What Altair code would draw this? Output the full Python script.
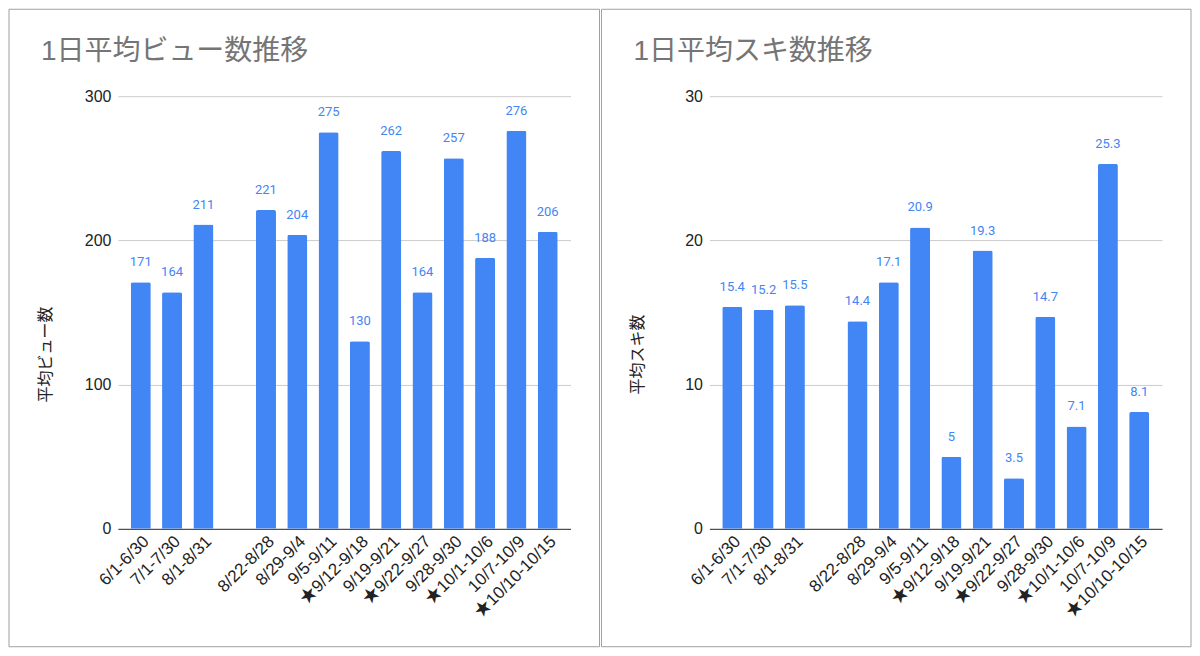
import altair as alt
import pandas as pd

categories = ["6/1-6/30", "7/1-7/30", "8/1-8/31", " ", "8/22-8/28", "8/29-9/4",
              "9/5-9/11", "★9/12-9/18", "9/19-9/21", "★9/22-9/27", "9/28-9/30",
              "★10/1-10/6", "10/7-10/9", "★10/10-10/15"]
views = [171, 164, 211, None, 221, 204, 275, 130, 262, 164, 257, 188, 276, 206]
likes = [15.4, 15.2, 15.5, None, 14.4, 17.1, 20.9, 5, 19.3, 3.5, 14.7, 7.1, 25.3, 8.1]

view_ticks = [0, 100, 200, 300]
like_ticks = [0, 10, 20, 30]

FONT = "Arial, Liberation Sans, Noto Sans CJK JP, sans-serif"
BAR = "#4285F4"


def panel(values, title, ytitle, ticks, rx1, rx2, tx):
    df = pd.DataFrame({"cat": categories, "v": values})
    x = alt.X("cat:N", sort=categories, title=None,
              scale=alt.Scale(domain=categories, paddingInner=0.36, paddingOuter=0.41),
              axis=alt.Axis(labelAngle=315, labelAlign="right", labelBaseline="top",
                            labelFontSize=17, labelColor="#222222", ticks=False,
                            domainColor="#333333", labelPadding=4, labelFont=FONT))
    y = alt.Y("v:Q", title=ytitle,
              scale=alt.Scale(domain=[ticks[0], ticks[-1]], nice=False),
              axis=alt.Axis(values=ticks, grid=True, gridColor="#cccccc", domain=False,
                            ticks=False, labelFontSize=16, labelPadding=7, labelColor="#222222",
                            labelFont=FONT, titleFont=FONT, titleX=-72, titleY=258,
                            titleFontSize=16, titleFontWeight="normal", titleAngle=270,
                            titleAlign="center", titleBaseline="middle", titleColor="#222222"))
    base = alt.Chart(df)
    bars = base.mark_bar(color=BAR, cornerRadiusTopLeft=2, cornerRadiusTopRight=2).encode(x=x, y=y)
    labels = base.transform_filter("isValid(datum.v)").mark_text(
        baseline="bottom", dy=-13, fontSize=13, color=BAR, font="Roboto"
    ).encode(x=x, y=y, text=alt.Text("v:Q", format=".3~g"))
    border = alt.Chart(pd.DataFrame({"d": [0]})).mark_rect(
        fill="transparent", stroke="#a0a0a0", strokeWidth=1
    ).encode(x=alt.value(rx1), x2=alt.value(rx2), y=alt.value(-87), y2=alt.value(551))
    ttl = alt.Chart(pd.DataFrame({"t": [title]})).mark_text(
        align="left", baseline="middle", fontSize=28, color="#757575", font=FONT
    ).encode(x=alt.value(tx), y=alt.value(-44), text="t:N")
    return alt.layer(border, bars, labels, ttl).properties(width=453, height=433)


left = panel(views, "1日平均ビュー数推移", "平均ビュー数", view_ticks, -109, 482, -77)
right = panel(likes, "1日平均スキ数推移", "平均スキ数", like_ticks, -108, 482, -76)

chart = alt.hconcat(left, right, spacing=0).properties(padding=0).configure_view(
    stroke="transparent"
)

chart.save("out.html", embed_options={"renderer": "svg", "actions": False})
